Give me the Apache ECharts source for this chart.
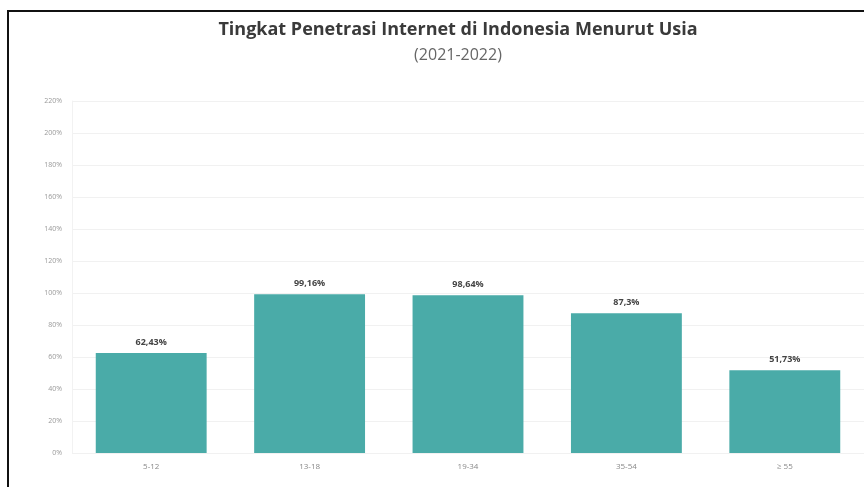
<!DOCTYPE html>
<html>
<head>
<meta charset="utf-8">
<script src="https://cdn.jsdelivr.net/npm/echarts@6/dist/echarts.min.js"></script>
<style>
  html, body { margin: 0; padding: 0; background: #fff; overflow: hidden; }
  #frame { position: absolute; left: 7px; top: 10px; width: 900px; height: 520px;
           border-left: 2px solid #111; border-top: 2px solid #111; box-sizing: border-box; }
  #chart { position: absolute; left: 0; top: 0; width: 864px; height: 487px; }
</style>
</head>
<body>
<div id="chart"></div>
<div id="frame"></div>
<script>
// Kelompok usia dan tingkat penetrasi internet (%)
const categories = ['5-12', '13-18', '19-34', '35-54', '\u2265 55'];
const penetration = [62.43, 99.16, 98.64, 87.3, 51.73];
const yTicks = { min: 0, max: 220, step: 20 };
const titleText = 'Tingkat Penetrasi Internet di Indonesia Menurut Usia';
const subtitleText = '(2021-2022)';

const chart = echarts.init(document.getElementById('chart'), null, { renderer: 'canvas' });

chart.setOption({
  backgroundColor: '#ffffff',
  animation: false,
  graphic: [
    {
      type: 'text', x: 458, y: 30,
      style: { text: titleText, textAlign: 'center', textVerticalAlign: 'middle',
               font: 'bold 18px "Open Sans"', fill: '#3a3a3a' }
    },
    {
      type: 'text', x: 458, y: 55,
      style: { text: subtitleText, textAlign: 'center', textVerticalAlign: 'middle',
               font: '16px "Open Sans"', fill: '#666' }
    }
  ],
  grid: { left: 72, top: 101, width: 793, bottom: 34, containLabel: false },
  xAxis: {
    type: 'category',
    data: categories,
    axisLine: { show: false },
    axisTick: { show: false },
    axisLabel: { color: '#888', fontSize: 8, fontFamily: 'Open Sans', margin: 10 }
  },
  yAxis: {
    type: 'value',
    min: yTicks.min,
    max: yTicks.max,
    interval: yTicks.step,
    axisLine: { show: true, lineStyle: { color: '#f2f2f2' } },
    axisTick: { show: false },
    axisLabel: { color: '#999', fontSize: 7, fontFamily: 'Open Sans', margin: 10,
                 formatter: v => v + '%' },
    splitLine: { lineStyle: { color: '#f1f1f1', width: 1 } }
  },
  series: [{
    type: 'bar',
    data: penetration,
    barWidth: '70%',
    itemStyle: { color: '#4aaba8' },
    label: {
      show: true,
      position: 'top',
      distance: 6,
      color: '#444',
      fontSize: 9,
      fontWeight: 'bold',
      fontFamily: 'Open Sans',
      formatter: p => String(p.value).replace('.', ',') + '%'
    }
  }]
});
</script>
</body>
</html>
